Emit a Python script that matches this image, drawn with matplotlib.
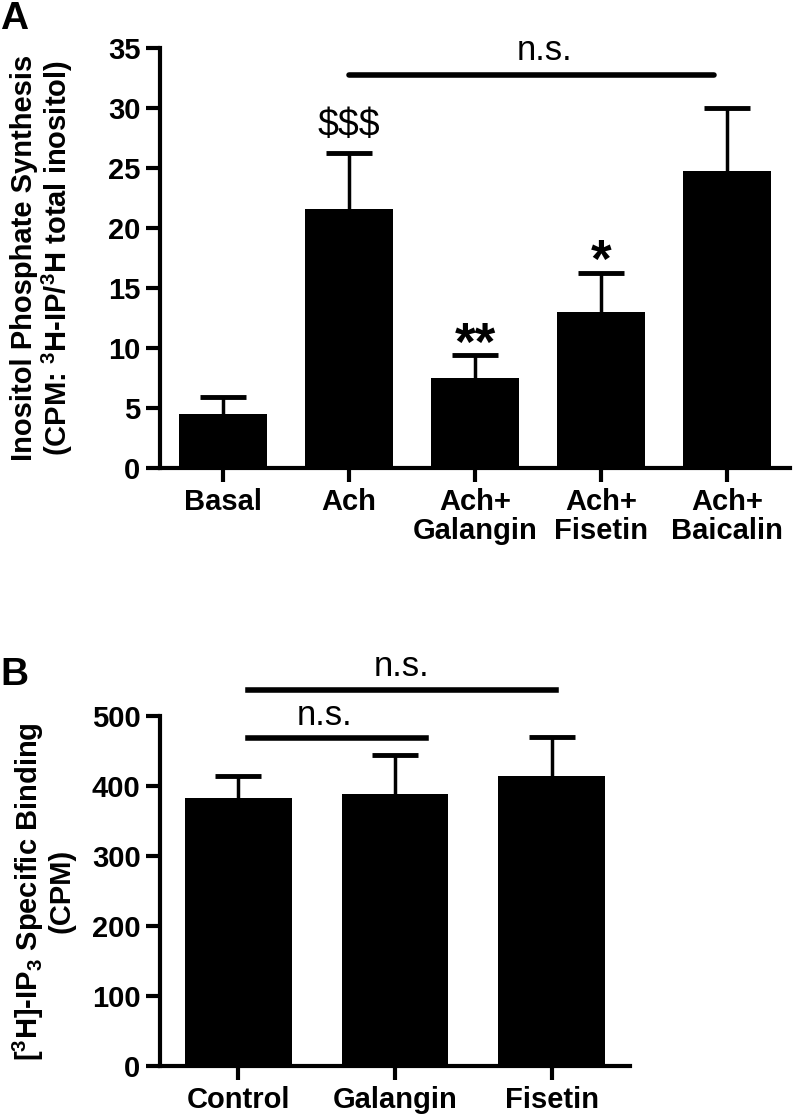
import numpy as np
import matplotlib
matplotlib.use("Agg")
import matplotlib.pyplot as plt

plt.rcParams['font.family'] = ['Liberation Sans', 'DejaVu Sans']
plt.rcParams['mathtext.fontset'] = 'custom'
plt.rcParams['mathtext.rm'] = 'Liberation Sans:bold'
plt.rcParams['mathtext.bf'] = 'Liberation Sans:bold'
plt.rcParams['mathtext.default'] = 'bf'

# Panel A data
groups_a = ['Basal', 'Ach', 'Ach+\nGalangin', 'Ach+\nFisetin', 'Ach+\nBaicalin']
means_a = [4.5, 21.6, 7.5, 13.0, 24.8]
sem_a = [1.4, 4.7, 1.9, 3.3, 5.2]
marks_a = ['', '$$$', '**', '*', '']

# Panel B data
groups_b = ['Control', 'Galangin', 'Fisetin']
means_b = [383, 389, 414]
sem_b = [31, 55, 57]

fig = plt.figure(figsize=(8, 11.2), dpi=100)


def style_axes(ax):
    for s in ['top', 'right']:
        ax.spines[s].set_visible(False)
    for s in ['left', 'bottom']:
        ax.spines[s].set_linewidth(3)
    ax.tick_params(axis='both', width=3, length=10, labelsize=21, pad=4)
    for lab in ax.get_xticklabels() + ax.get_yticklabels():
        lab.set_fontweight('bold')


def upper_errors(ax, x, means, sems):
    # only the upper half of the error bar, like the original
    tops = np.array(means) + np.array(sems)
    ax.vlines(x, means, tops, color='black', lw=2.5)
    ax.plot(x, tops, linestyle='none', marker='_', ms=33, mew=3.5, color='black')


# ---- Panel A ----
ax1 = fig.add_axes([0.2, 0.582, 0.7875, 0.375])
x_a = np.arange(len(groups_a))
ax1.bar(x_a, means_a, width=0.7, color='black')
upper_errors(ax1, x_a, means_a, sem_a)
ax1.set_xlim(-0.5, 4.5)
ax1.set_ylim(0, 35)
ax1.set_yticks(np.arange(0, 36, 5))
ax1.set_xticks(x_a)
ax1.set_xticklabels(groups_a, linespacing=1.05)
style_axes(ax1)
ax1.set_ylabel('Inositol Phosphate Synthesis\n(CPM: $^3$H-IP/$^3$H total inositol)',
               fontsize=21, fontweight='bold', labelpad=24, linespacing=1.05)

for i, m in enumerate(marks_a):
    if not m:
        continue
    top = means_a[i] + sem_a[i]
    if m.startswith('$'):
        ax1.text(x_a[i], top + 0.7, m.replace('$', r'\$'), ha='center', va='bottom',
                 fontsize=27, fontweight='normal')
    else:
        ax1.text(x_a[i], top - 1.3, m, ha='center', va='bottom',
                 fontsize=38, fontweight='bold')

ax1.plot([1, 3.9], [32.75, 32.75], color='black', lw=4, solid_capstyle='round',
         clip_on=False)
ax1.text(2.55, 33.4, 'n.s.', ha='center', va='bottom', fontsize=25)
fig.text(0.0, 0.999, 'A', fontsize=28, fontweight='bold', va='top', ha='left')

# ---- Panel B ----
ax2 = fig.add_axes([0.2, 0.048, 0.5875, 0.3125])
x_b = np.arange(len(groups_b))
ax2.bar(x_b, means_b, width=0.68, color='black')
upper_errors(ax2, x_b, means_b, sem_b)
ax2.set_xlim(-0.5, 2.5)
ax2.set_ylim(0, 500)
ax2.set_yticks(np.arange(0, 501, 100))
ax2.set_xticks(x_b)
ax2.set_xticklabels(groups_b)
style_axes(ax2)
ax2.set_ylabel('[$^3$H]-IP$_3$ Specific Binding\n(CPM)',
               fontsize=21, fontweight='bold', labelpad=12, linespacing=1.05)

ax2.plot([0.06, 1.2], [469, 469], color='black', lw=4, clip_on=False)
ax2.text(0.55, 478, 'n.s.', ha='center', va='bottom', fontsize=25)
ax2.plot([0.06, 2.03], [537, 537], color='black', lw=4, clip_on=False)
ax2.text(1.04, 547, 'n.s.', ha='center', va='bottom', fontsize=25)
fig.text(0.0, 0.413, 'B', fontsize=28, fontweight='bold', va='top', ha='left')

fig.savefig('out.png', dpi=100)
